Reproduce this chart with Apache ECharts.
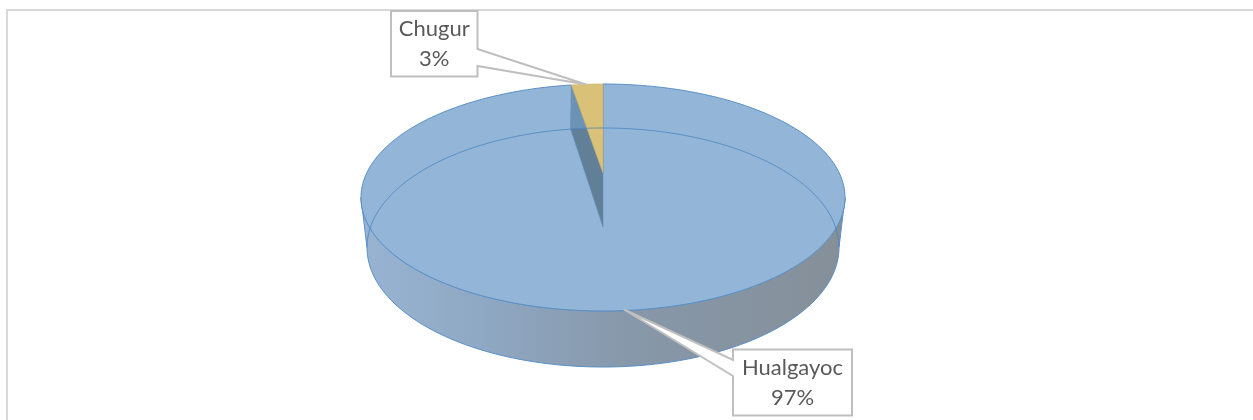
<!DOCTYPE html>
<html>
<head>
<meta charset="utf-8">
<style>html,body{margin:0;padding:0;background:#fff}#c{width:1253px;height:420px}</style>
<script src="https://cdn.jsdelivr.net/npm/echarts@6/dist/echarts.min.js"></script>
</head>
<body>
<div id="c"></div>
<script>
const categories = ['Hualgayoc', 'Chugur'];
const shares = [97.4, 2.6];
const percentLabels = ['97%', '3%'];
const sliceColors = ['#93b6d8', '#dac178'];

// Perspective view of the disc: screen ellipses of the top and bottom faces
const topFace = {cx: 603, cy: 173, R: 236.3, S: 108.2, p: 0.2158};
const baseFace = {cx: 603, cy: 227, R: 232.5, S: 116, p: 0.1716};
const callouts = {
  Hualgayoc: {box: [733, 349.5, 852, 415.5], tip: [624, 309.5], root: [360, 376]},
  Chugur: {box: [391, 11, 477.5, 76.5], tip: [586, 84.5], root: [49, 66]}
};

function project(f, a) {           // a: true angle clockwise from the back of the disc
  const u = Math.sin(a), v = Math.cos(a), w = 1 + f.p * v;
  return [f.cx + f.R * u / w, f.cy - f.S * v / w];
}
function arc(f, a0, a1, n) {
  const out = [];
  for (let i = 0; i <= n; i++) out.push(project(f, a0 + (a1 - a0) * i / n));
  return out;
}
const silhouette = f => Math.PI - Math.acos(f.p);  // angle where the ellipse is widest

const total = shares.reduce((s, x) => s + x, 0);

function renderSlice(params, api) {
  const i = params.dataIndex;
  const share = api.value(0);
  const TAU = Math.PI * 2;
  const children = [];
  if (i === 0) {
    const sweep = share / total * TAU;
    const sTop = silhouette(topFace), sBase = silhouette(baseFace);
    // Outer wall, front part
    const wall = arc(topFace, sTop, TAU - sTop, 90).concat(arc(baseFace, TAU - sBase, sBase, 90));
    children.push({type: 'polygon', shape: {points: wall}, style: {
      fill: {type: 'linear', x: 0, y: 0, x2: 1, y2: 0, colorStops: [
        {offset: 0, color: '#98b4d3'}, {offset: 0.25, color: '#8fa8c3'},
        {offset: 0.55, color: '#8798aa'}, {offset: 1, color: '#858f98'}]},
      stroke: '#5a90c6', lineWidth: 1}, silent: true});
    // Top face
    children.push({type: 'polygon', shape: {points: [[topFace.cx, topFace.cy]].concat(arc(topFace, 0, sweep, 240))},
      style: {fill: sliceColors[0], stroke: '#5a90c6', lineWidth: 1}});
    // Cut wall seen inside the disc
    const a = project(topFace, sweep), b = project(baseFace, sweep);
    const c0 = [topFace.cx, topFace.cy], c1 = [baseFace.cx, baseFace.cy];
    children.push({type: 'polygon', shape: {points: [a, c0, c1, b]}, style: {fill: '#617f96', stroke: '#5c8fbd', lineWidth: 0.6}});
    const t = (b[1] - a[1]) / (c0[1] - a[1]);
    children.push({type: 'polygon', shape: {points: [a, [a[0] + (c0[0] - a[0]) * t, b[1]], b]}, style: {fill: '#6c93b6'}});
  } else {
    const start = (1 - share / total) * TAU;
    children.push({type: 'polygon', shape: {points: [[topFace.cx, topFace.cy]].concat(arc(topFace, start, TAU, 12))},
      style: {fill: sliceColors[1], stroke: '#c9b06a', lineWidth: 0.6}});
    // Outline of the base seen through the disc, drawn once the last slice is in place
    children.push({type: 'polyline', shape: {points: arc(baseFace, silhouette(baseFace), -silhouette(baseFace), 200).reverse()},
      style: {fill: null, stroke: 'rgba(70,130,190,0.75)', lineWidth: 1}, silent: true});
  }
  return {type: 'group', children};
}

function renderCallout(params) {
  const name = categories[params.dataIndex];
  const c = callouts[name];
  const [l, t, r, b] = c.box;
  const pts = c.tip[0] > r
    ? [[l, t], [r, t], [r, c.root[0]], c.tip, [r, c.root[1]], [r, b], [l, b]]
    : [[l, t], [r, t], [r, b], [l, b], [l, c.root[1]], c.tip, [l, c.root[0]]];
  const cx = (l + r) / 2, cy = (t + b) / 2;
  return {type: 'group', children: [
    {type: 'polygon', shape: {points: pts}, style: {fill: '#fff', stroke: '#bfbfbf', lineWidth: 2, lineJoin: 'miter'}},
    {type: 'text', style: {text: name, x: cx, y: cy - 15, align: 'center', verticalAlign: 'middle',
      fill: '#595959', font: '22px Lato'}},
    {type: 'text', style: {text: percentLabels[params.dataIndex], x: cx, y: cy + 15, align: 'center', verticalAlign: 'middle',
      fill: '#595959', font: '22px Lato'}}
  ]};
}

const seriesData = categories.map((n, i) => ({name: n, value: [shares[i]]}));

const chart = echarts.init(document.getElementById('c'), null, {renderer: 'canvas'});
chart.setOption({
  animation: false,
  backgroundColor: '#fff',
  graphic: [
    {type: 'polyline', shape: {points: [[7, 420], [7, 10], [1253, 10]]}, style: {fill: null, stroke: '#d9d9d9', lineWidth: 2}, silent: true}
  ],
  series: [
    {type: 'custom', name: 'disc', coordinateSystem: 'none', renderItem: renderSlice, data: seriesData, silent: true, z: 2},
    {type: 'custom', name: 'labels', coordinateSystem: 'none', renderItem: renderCallout, data: seriesData, silent: true, z: 3}
  ]
});
</script>
</body>
</html>
